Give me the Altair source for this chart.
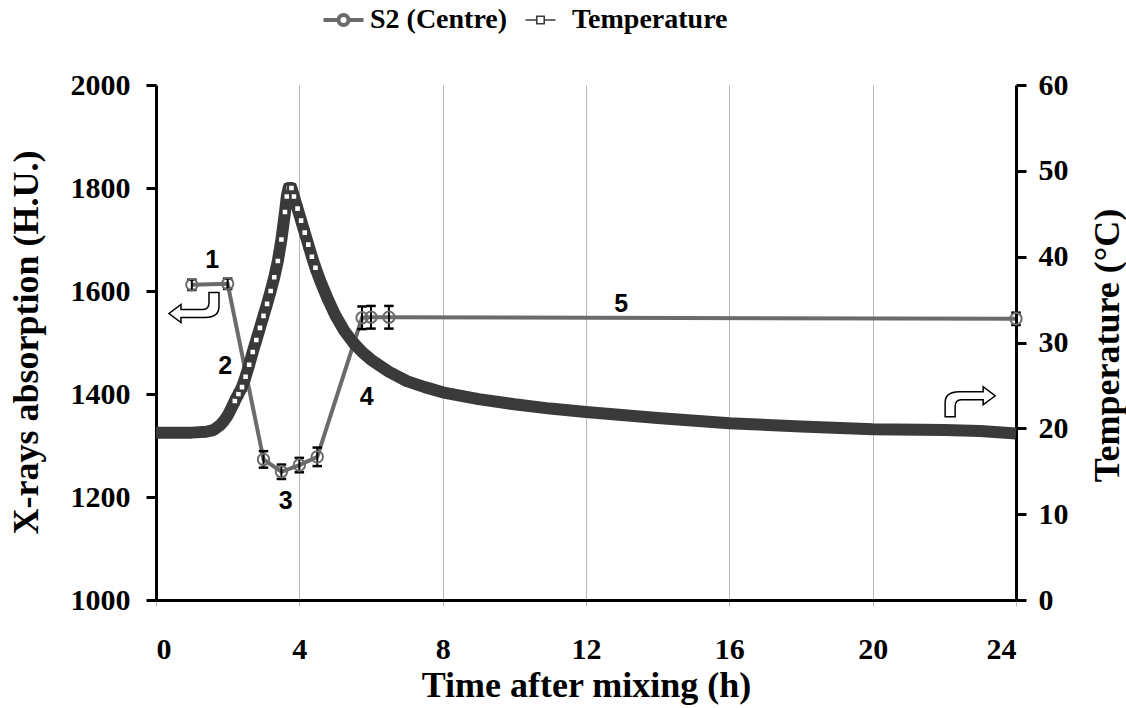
import altair as alt
import pandas as pd

# S2 (Centre) X-ray absorption readings with their error bars
s2_time = [1.0, 2.0, 3.0, 3.5, 4.0, 4.5, 5.75, 6.0, 6.5, 24.0]
s2_hu = [1612, 1614, 1273, 1249, 1262, 1278, 1548, 1549, 1549, 1546]
s2_err = [10, 10, 16, 14, 14, 18, 22, 22, 22, 12]

# Temperature log after mixing
temp_time = [0, 0.5, 1.0, 1.4, 1.6, 1.8, 1.9, 2.0, 2.1, 2.2, 2.3, 2.4, 2.5, 2.6,
             2.7, 2.8, 2.9, 3.0, 3.1, 3.2, 3.3, 3.4, 3.5, 3.6, 3.65, 3.7, 3.78,
             3.85, 3.95, 4.05, 4.15, 4.25, 4.35, 4.45, 4.6, 4.8, 5.0, 5.25, 5.5,
             5.75, 6.0, 6.5, 7.0, 7.5, 8.0, 9.0, 10.0, 11.0, 12.0, 14.0, 16.0,
             18.0, 20.0, 22.0, 23.0, 24.0]
temp_c = [19.5, 19.5, 19.5, 19.6, 19.8, 20.4, 20.9, 21.5, 22.3, 23.2, 24.0, 24.8,
          26.0, 27.4, 28.9, 30.3, 31.7, 33.1, 34.5, 36.0, 37.6, 39.5, 42.0, 45.2,
          47.0, 48.0, 48.0, 47.0, 45.6, 44.2, 42.8, 41.4, 40.0, 38.7, 37.0, 35.0,
          33.2, 31.4, 30.0, 28.9, 28.0, 26.6, 25.5, 24.8, 24.2, 23.4, 22.8, 22.3,
          21.9, 21.2, 20.6, 20.2, 19.9, 19.8, 19.7, 19.4]

# Stage numbers
stage_text = ["1", "2", "3", "4", "5"]
stage_time = [1.57, 1.93, 3.62, 5.88, 12.98]
stage_hu = [1660, 1455, 1192, 1395, 1575]

# Curved arrows pointing to the axis each series belongs to
arrow_time = [1.06, 22.72]
arrow_hu = [1568, 1385]
arrow_angle = [180, 0]

S2_NAME = "S2 (Centre)"
T_NAME = "Temperature"
S2_COLOR = "#6b6b6b"
T_COLOR = "#3a3a3a"
SERIF = "Liberation Serif"
TICK_FS = 30
TITLE_FS = 36

s2 = pd.DataFrame({"time": s2_time, "hu": s2_hu, "err": s2_err})
s2["lo"] = s2["hu"] - s2["err"]
s2["hi"] = s2["hu"] + s2["err"]
temp = pd.DataFrame({"time": temp_time, "temp": temp_c})
stages = pd.DataFrame({"time": stage_time, "hu": stage_hu, "text": stage_text})
arrows = pd.DataFrame({"time": arrow_time, "hu": arrow_hu, "angle": arrow_angle})
one_row = pd.DataFrame({"k": [0]})

text_style = dict(
    labelFont=SERIF, labelFontWeight="bold", labelFontSize=TICK_FS, labelColor="black",
    titleFont=SERIF, titleFontWeight="bold", titleFontSize=TITLE_FS, titleColor="black",
)

x_enc = alt.X(
    "time:Q",
    scale=alt.Scale(domain=[0, 24], nice=False),
    axis=alt.Axis(
        values=list(range(0, 25, 4)), title="Time after mixing (h)", format="d",
        grid=True, gridColor="#b8b8b8", gridWidth=1,
        domainColor="black", domainWidth=3, ticks=True, tickColor="#b8b8b8",
        tickSize=6, tickWidth=1, labelPadding=28,
        titleBaseline="middle", titleY=85, **text_style,
    ),
)

hu_scale = alt.Scale(domain=[1000, 2000], nice=False, zero=False)
t_scale = alt.Scale(domain=[0, 60], nice=False, zero=False)

# S2 line with the left axis
s2_line = alt.Chart(s2).mark_line(strokeWidth=4, color=S2_COLOR).encode(
    x=x_enc,
    y=alt.Y("hu:Q", scale=hu_scale, axis=alt.Axis(
        values=list(range(1000, 2001, 200)), title="X-rays absorption (H.U.)",
        format="d", orient="left", grid=False, domainColor="black", domainWidth=3,
        tickColor="black", tickWidth=3, tickSize=10, labelPadding=16,
        titleX=-130, titleY=257, titleBaseline="middle", **text_style,
    )),
)

# Temperature band with the right axis
temp_line = alt.Chart(temp).mark_line(strokeWidth=12, strokeJoin="round",
                                      color=T_COLOR).encode(
    x=x_enc,
    y=alt.Y("temp:Q", scale=t_scale, axis=alt.Axis(
        values=list(range(0, 61, 10)), title="Temperature (°C)", orient="right",
        format="d", grid=False, domainColor="black", domainWidth=3,
        tickColor="black", tickWidth=3, tickSize=10, labelPadding=12,
        titleAngle=270, titleX=91, titleY=260, titleBaseline="middle", **text_style,
    )),
)
temp_marks = alt.Chart(temp).transform_filter(
    (alt.datum.time >= 2.2) & (alt.datum.time <= 4.5)
).mark_point(shape="square", size=50, filled=True, fill="white",
             stroke=T_COLOR, strokeWidth=2.5, opacity=1).encode(
    x=x_enc, y=alt.Y("temp:Q", scale=t_scale, axis=None),
)

err_rule = alt.Chart(s2).mark_rule(color="black", strokeWidth=2).encode(
    x=x_enc, y=alt.Y("lo:Q", scale=hu_scale, axis=None), y2="hi:Q",
)
err_lo = alt.Chart(s2).mark_point(shape="stroke", size=90, color="black",
                                  strokeWidth=2.5, opacity=1).encode(
    x=x_enc, y=alt.Y("lo:Q", scale=hu_scale, axis=None),
)
err_hi = alt.Chart(s2).mark_point(shape="stroke", size=90, color="black",
                                  strokeWidth=2.5, opacity=1).encode(
    x=x_enc, y=alt.Y("hi:Q", scale=hu_scale, axis=None),
)
s2_pts = alt.Chart(s2).mark_point(shape="circle", size=130, filled=False,
                                  color=S2_COLOR, strokeWidth=2, opacity=1).encode(
    x=x_enc, y=alt.Y("hu:Q", scale=hu_scale, axis=None),
)

stage_labels = alt.Chart(stages).mark_text(
    font="Liberation Sans", fontWeight="bold", fontSize=25, color="black",
    align="center", baseline="middle",
).encode(
    x=x_enc, y=alt.Y("hu:Q", scale=hu_scale, axis=None), text="text:N",
)

ARROW = ("M-1,0.6L-1,0.04Q-1,-0.4,-0.44,-0.4L0.52,-0.4L0.52,-0.6L1,-0.24"
         "L0.52,0.12L0.52,-0.08L-0.36,-0.08Q-0.6,-0.08,-0.6,0.2L-0.6,0.6Z")
arrow_marks = alt.Chart(arrows).mark_point(
    shape=ARROW, size=2500, filled=True, fill="white", stroke="black",
    strokeWidth=1.5, opacity=1,
).encode(
    x=x_enc, y=alt.Y("hu:Q", scale=hu_scale, axis=None),
    angle=alt.Angle("angle:Q", scale=None),
)

# Legend row above the plot: line-with-marker swatch followed by its label
S2_SYMBOL = "M-1.6,0H-0.4M0.4,0H1.6M-0.4,0A0.4,0.4,0,1,0,0.4,0A0.4,0.4,0,1,0,-0.4,0Z"
T_SYMBOL = "M-1.2,0H-0.3M0.3,0H1.2M-0.3,-0.3H0.3V0.3H-0.3Z"
LEGEND_Y = -65


def legend_entry(symbol, color, stroke_width, sym_x, label, label_x):
    swatch = alt.Chart(one_row).mark_point(
        shape=symbol, size=625, filled=True, fill="white", stroke=color,
        strokeWidth=stroke_width, opacity=1,
    ).encode(x=alt.value(sym_x), y=alt.value(LEGEND_Y))
    text = alt.Chart(one_row).mark_text(
        font=SERIF, fontWeight="bold", fontSize=28, color="black",
        align="left", baseline="middle",
    ).encode(x=alt.value(label_x), y=alt.value(LEGEND_Y), text=alt.value(label))
    return swatch + text


legend_s2 = legend_entry(S2_SYMBOL, S2_COLOR, 4, 187.5, S2_NAME, 214)
legend_t = legend_entry(T_SYMBOL, T_COLOR, 1.6, 384.5, T_NAME, 416)

chart = alt.layer(
    s2_line, temp_line, temp_marks, err_rule, err_lo, err_hi, s2_pts,
    stage_labels, arrow_marks, legend_s2, legend_t,
).resolve_scale(y="independent").properties(
    width=860, height=515,
    autosize=alt.AutoSizeParams(type="none"),
    padding={"left": 156, "top": 85, "right": 110, "bottom": 108},
    background="white",
).configure_view(stroke=None)

chart.save("out.html", embed_options={"renderer": "svg", "actions": False})
